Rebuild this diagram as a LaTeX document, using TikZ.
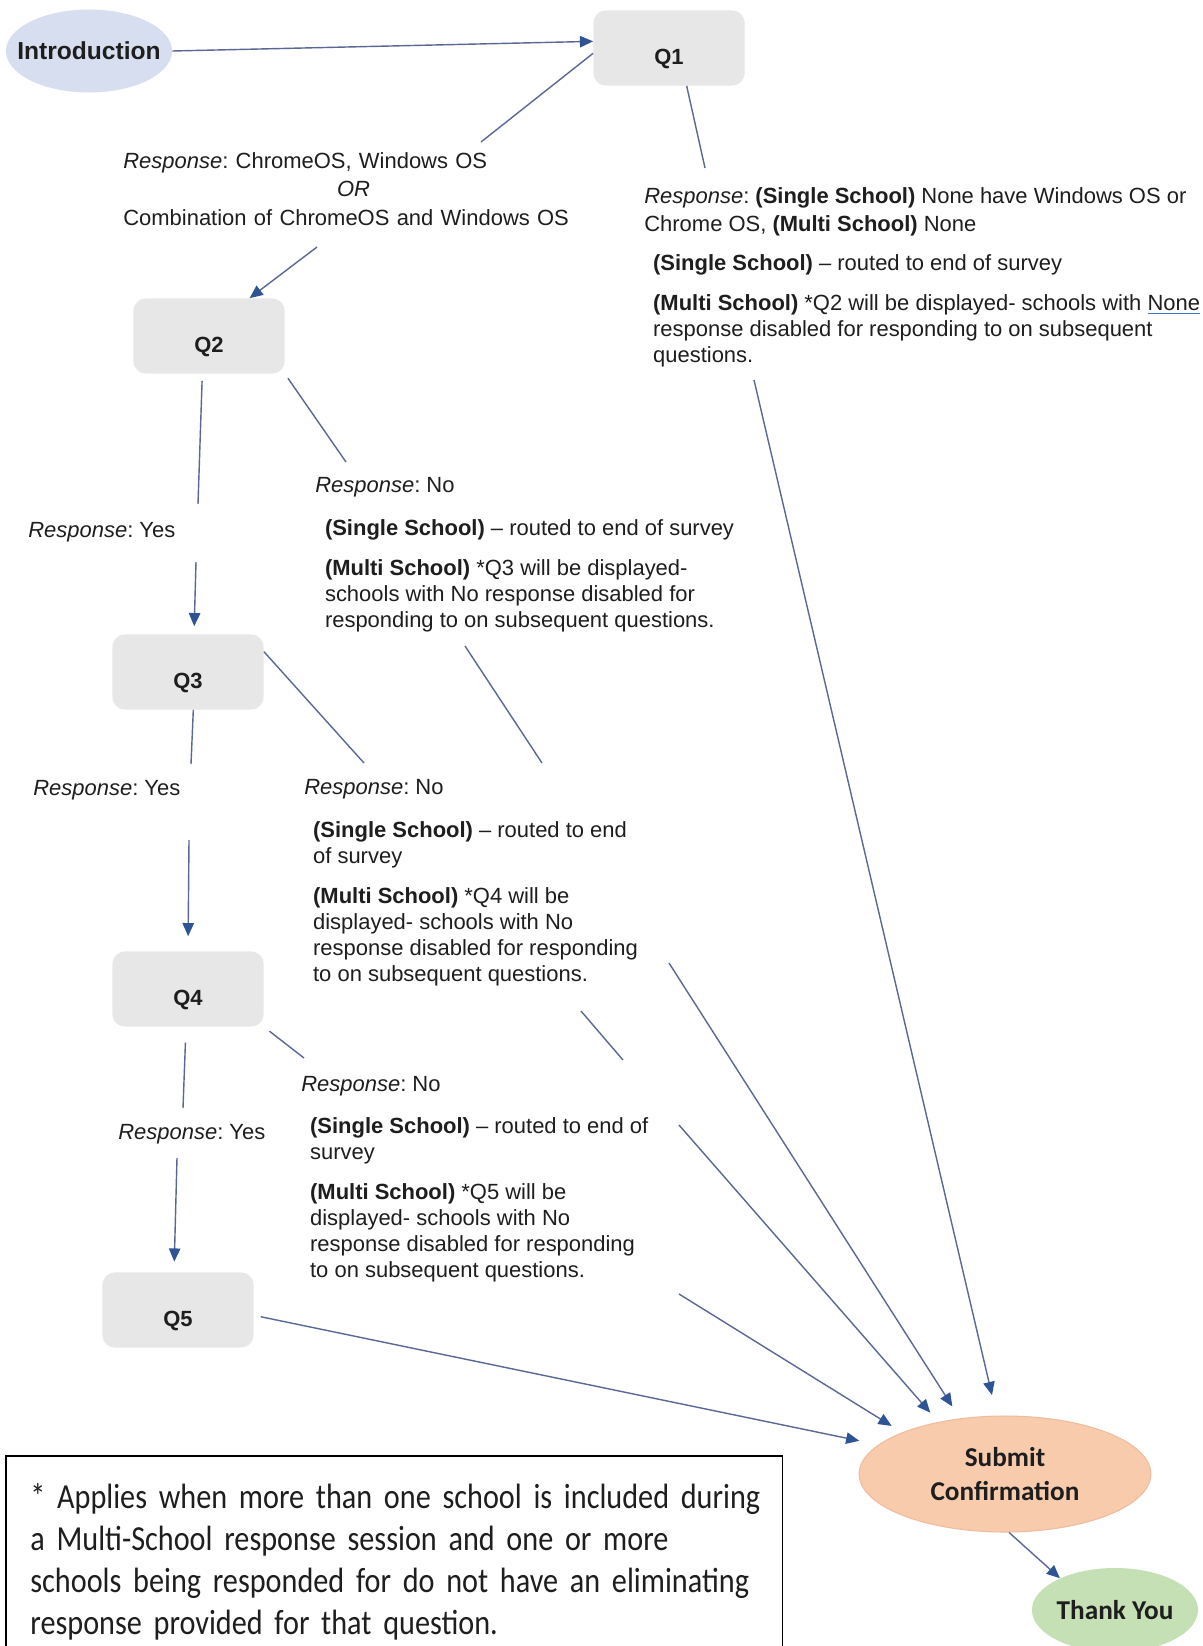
\documentclass[tikz,border=0pt]{standalone}
\usepackage{fontspec}
\setmainfont{Liberation Sans}
\newfontfamily\calibri{Carlito}
\newfontfamily\notefont[FakeStretch=0.86, WordSpace=0.6]{Carlito}
\usepackage{tikz}
\usetikzlibrary{arrows.meta,positioning,shapes.geometric}
\frenchspacing

\definecolor{introblue}{RGB}{214,222,240}
\definecolor{qgray}{RGB}{231,231,231}
\definecolor{submitpeach}{RGB}{248,203,173}
\definecolor{submitedge}{RGB}{238,188,158}
\definecolor{thanksgreen}{RGB}{197,224,180}
\definecolor{linkgray}{RGB}{90,104,150}
\definecolor{tipblue}{RGB}{47,84,150}
\definecolor{noneblue}{RGB}{68,114,196}
\definecolor{textdark}{RGB}{30,30,30}

\begin{document}
\begin{tikzpicture}[x=0.2mm, y=-0.2mm,
  qbox/.style={rectangle, rounded corners=7pt, fill=qgray, text=textdark,
    minimum width=86pt, minimum height=42.7pt, text height=19pt, text depth=0pt,
    font=\bfseries\fontsize{12.5}{15}\selectfont},
  oval/.style={ellipse, inner sep=0pt, text=textdark},
  resp/.style={anchor=north west, inner sep=0pt, align=left, text=textdark,
    font=\fontsize{12.5}{14.8}\selectfont},
  yes/.style={resp, anchor=west},
  link/.style={draw=linkgray, line width=0.8pt},
  arr/.style={link, -{Triangle[length=7.5pt, width=6.5pt, color=tipblue]}},
  notebox/.style={draw=black, line width=0.9pt, anchor=north west, align=left,
    inner xsep=14pt, inner ysep=15.5pt, text width=414pt, minimum height=116pt,
    text=textdark, font=\notefont\fontsize{20}{24}\selectfont}]

  \fill[white] (0,0) rectangle (1202,1646);
  \useasboundingbox (0,0) rectangle (1202,1646);

  % start and question boxes
  \node[oval, fill=introblue, minimum width=94.5pt, minimum height=47.2pt,
        font=\bfseries\fontsize{14}{16}\selectfont] (intro) at (89,51) {\makebox[0pt]{Introduction}};
  \node[qbox] (q1) at (669,48) {Q1};
  \node[qbox] (q2) at (209,336) {Q2};
  \node[qbox] (q3) at (188,672) {Q3};
  \node[qbox] (q4) at (188,989) {Q4};
  \node[qbox] (q5) at (178,1310) {Q5};

  % end of survey
  \node[oval, fill=submitpeach, draw=submitedge, line width=0.6pt,
        minimum width=166pt, minimum height=66pt, align=center,
        font=\calibri\bfseries\fontsize{15.5}{19.4}\selectfont] (submit) at (1005,1474) {Submit\\Confirmation};
  \node[oval, fill=thanksgreen, minimum width=94.5pt, minimum height=47.8pt,
        font=\calibri\bfseries\fontsize{15.5}{19}\selectfont] (thanks) at (1115,1610) {\makebox[0pt]{Thank You}};

  % Q1 answers
  \node[resp, text width=262pt, font=\fontsize{12.5}{16.2}\selectfont] (r1) at (123,152)
    {\textit{Response}: ChromeOS, Windows OS\\
     \makebox[262pt]{\textit{OR}}\\
     Combination of ChromeOS and Windows OS};
  \node[resp, font=\fontsize{12.5}{16}\selectfont] (r1b) at (644,187)
    {\textit{Response}: \textbf{(Single School)} None have Windows OS or\\
     Chrome OS, \textbf{(Multi School)} None};
  \node[resp, below right=10pt and 5pt of r1b.south west] (r1bd)
    {\textbf{(Single School)} -- routed to end of survey\\[8pt]
     \textbf{(Multi School)} *Q2 will be displayed- schools with {\color{noneblue}\underline{\color{textdark}None}}\\
     response disabled for responding to on subsequent\\
     questions.};

  % Q2 answers
  \node[yes] (y2) at (28,532) {\textit{Response}: Yes};
  \node[resp] (r2) at (315,477) {\textit{Response}: No};
  \node[resp, below right=12.2pt and 5.5pt of r2.south west] (r2d)
    {\textbf{(Single School)} -- routed to end of survey\\[8pt]
     \textbf{(Multi School)} *Q3 will be displayed-\\
     schools with No response disabled for\\
     responding to on subsequent questions.};

  % Q3 answers
  \node[yes] (y3) at (33,790) {\textit{Response}: Yes};
  \node[resp] (r3) at (304,779) {\textit{Response}: No};
  \node[resp, below right=12.2pt and 5pt of r3.south west] (r3d)
    {\textbf{(Single School)} -- routed to end\\
     of survey\\[8pt]
     \textbf{(Multi School)} *Q4 will be\\
     displayed- schools with No\\
     response disabled for responding\\
     to on subsequent questions.};

  % Q4 answers
  \node[yes] (y4) at (118,1134) {\textit{Response}: Yes};
  \node[resp] (r4) at (301,1076) {\textit{Response}: No};
  \node[resp, below right=11.6pt and 5pt of r4.south west] (r4d)
    {\textbf{(Single School)} -- routed to end of\\
     survey\\[8pt]
     \textbf{(Multi School)} *Q5 will be\\
     displayed- schools with No\\
     response disabled for responding\\
     to on subsequent questions.};

  % break points where the lines pass a label
  \coordinate (k1a) at (481,142);
  \coordinate (k1b) at (317,247);
  \coordinate (k1c) at (705,168);
  \coordinate (k1d) at (754,380);
  \coordinate (k2a) at (198,504);
  \coordinate (k2b) at (196,562);
  \coordinate (k2c) at (346,462);
  \coordinate (k2d) at (465,646);
  \coordinate (k2e) at (542,763);
  \coordinate (k2f) at (669,963);
  \coordinate (k3a) at (191,764);
  \coordinate (k3b) at (189,840);
  \coordinate (k3c) at (364,763);
  \coordinate (k3d) at (581,1011);
  \coordinate (k3e) at (623,1060);
  \coordinate (k3f) at (679,1125);
  \coordinate (k4a) at (183,1108);
  \coordinate (k4b) at (177,1158);
  \coordinate (k4c) at (304,1058);
  \coordinate (k4d) at (679,1294);

  % Q1
  \draw[arr] (intro.east) -- (q1.175);
  \draw[link] (q1.184) -- (k1a);
  \draw[arr] (k1b) -- (q2.43);
  \draw[link] (q1.-65) -- (k1c);
  \draw[arr, shorten >=12pt] (k1d) -- (submit.98);
  % Q2
  \draw[link, shorten <=4pt] (q2.-100) -- (k2a);
  \draw[arr, shorten >=4.5pt] (k2b) -- (q3.81);
  \draw[link, shorten <=3pt] (q2.south east) -- (k2c);
  \draw[link] (k2d) -- (k2e);
  \draw[arr, shorten >=8pt] (k2f) -- (submit.129);
  % Q3
  \draw[link] (q3.-82) -- (k3a);
  \draw[arr, shorten >=8.5pt] (k3b) -- (q4.north);
  \draw[link] (q3.15) -- (k3c);
  \draw[link] (k3d) -- (k3e);
  \draw[arr, shorten >=7pt] (k3f) -- (submit.142);
  % Q4
  \draw[link, shorten <=9pt] (q4.-93) -- (k4a);
  \draw[arr, shorten >=6pt] (k4b) -- (q5.96);
  \draw[link, shorten <=4pt] (q4.south east) -- (k4c);
  \draw[arr, shorten >=7pt] (k4d) -- (submit.158);
  % Q5 and the end
  \draw[arr, shorten <=4pt, shorten >=11pt] (q5.-4) -- (submit.167);
  \draw[arr] (submit.-86) -- (thanks.150);

  % footnote
  \node[notebox] (note) at (5,1455)
    {\mbox{* Applies when more than one school is included during}\\
     \mbox{a Multi-School response session and one or more}\\
     \mbox{schools being responded for do not have an eliminating}\\
     \mbox{response provided for that question.}};
\end{tikzpicture}
\end{document}
